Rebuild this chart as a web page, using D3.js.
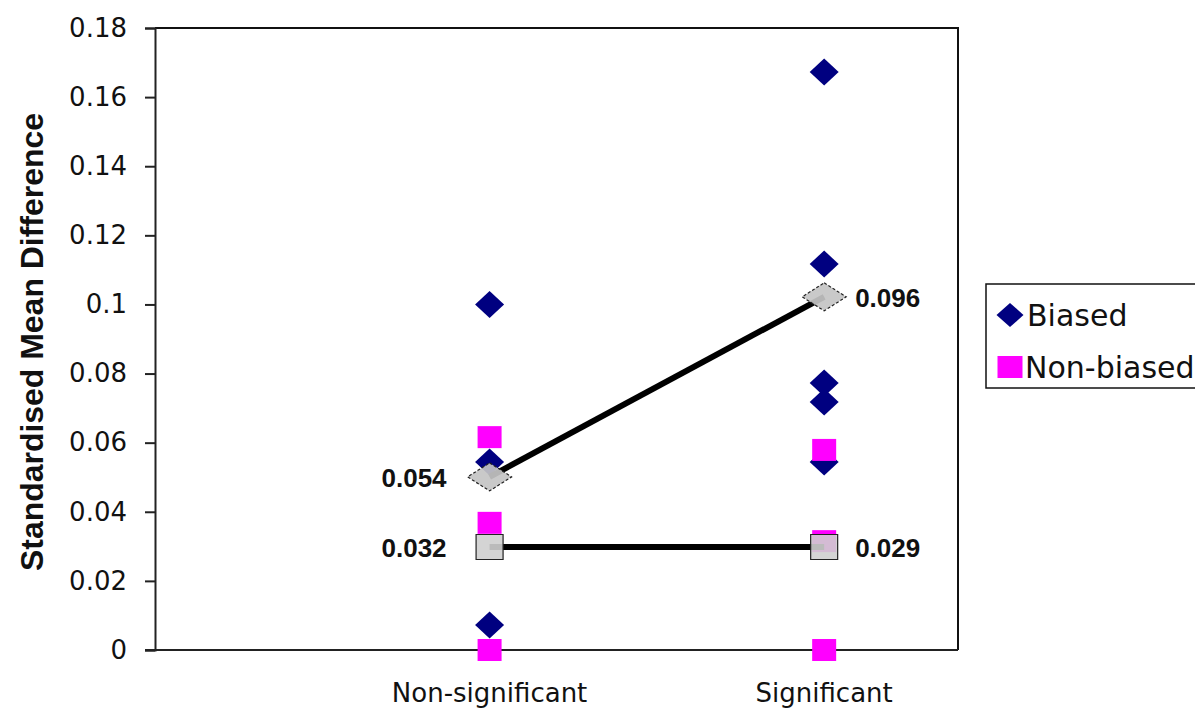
<!DOCTYPE html>
<html>
<head>
<meta charset="utf-8">
<script src="https://cdn.jsdelivr.net/npm/d3@7"></script>
<style>
  html, body { margin: 0; padding: 0; background: #fff; }
  svg { display: block; }
</style>
</head>
<body>
<svg id="chart" width="1195" height="711"></svg>
<script>
// data
var categories = ["Non-significant", "Significant"];
var catPos = [1, 2];
var biasedNonSig = [0.100, 0.0544, 0.0072];
var biasedSig = [0.1673, 0.1117, 0.0773, 0.0718, 0.0544];
var nonBiasedNonSig = [0.0616, 0.0368, 0];
var nonBiasedSig = [0.0579, 0.0315, 0];
var biasedMeans = [0.0501, 0.1022];
var nonBiasedMeans = [0.0298, 0.0298];
var biasedMeanLabels = ["0.054", "0.096"];
var nonBiasedMeanLabels = ["0.032", "0.029"];
var yTicks = [0, 0.02, 0.04, 0.06, 0.08, 0.1, 0.12, 0.14, 0.16, 0.18];
var legendNames = ["Biased", "Non-biased"];

var svg = d3.select("#chart");
var plotLeft = 155, plotRight = 958, plotTop = 28, plotBottom = 650;

var x = d3.scaleLinear().domain([0, 2.4]).range([plotLeft, plotRight]);
var y = d3.scaleLinear().domain([0, 0.18]).range([plotBottom, plotTop]);

var navy = "#000080", magenta = "#ff00ff";

function diamond(w, h) {
	return "M0," + (-h/2) + "L" + (w/2) + ",0L0," + (h/2) + "L" + (-w/2) + ",0Z";
}
function square(w, h) {
	return "M" + (-w/2) + "," + (-h/2) + "h" + w + "v" + h + "h" + (-w) + "Z";
}

// plot frame (top and right)
svg.append("path")
	.attr("d", "M" + x(0) + "," + y(0.18) + "H" + x(2.4) + "V" + y(0))
	.attr("fill", "none")
	.attr("stroke", "#111")
	.attr("stroke-width", 2);

// y axis
var yAxis = svg.append("g")
	.attr("transform", "translate(" + plotLeft + ",0)")
	.call(d3.axisLeft(y).tickValues(yTicks).tickSize(10).tickPadding(18)
		.tickFormat(function(d) { return d === 0 ? "0" : String(+d.toFixed(2)); }));
yAxis.select(".domain").attr("stroke", "#222").attr("stroke-width", 2);
yAxis.selectAll(".tick line").attr("stroke", "#222").attr("stroke-width", 2);
yAxis.selectAll("text")
	.attr("font-family", "DejaVu Sans")
	.attr("font-size", 26)
	.attr("fill", "#111");

// x axis line
svg.append("line")
	.attr("x1", plotLeft - 10).attr("x2", x(2.4))
	.attr("y1", y(0)).attr("y2", y(0))
	.attr("stroke", "#222").attr("stroke-width", 2);

// category labels
svg.selectAll(".cat")
	.data(categories)
	.enter()
	.append("text")
	.attr("class", "cat")
	.attr("x", function(d, i) { return x(catPos[i]); })
	.attr("y", 702)
	.attr("text-anchor", "middle")
	.attr("font-family", "DejaVu Sans")
	.attr("font-size", 26)
	.attr("fill", "#111")
	.text(function(d) { return d; });

// y title
svg.append("text")
	.attr("transform", "translate(43," + ((plotTop + plotBottom) / 2 + 3) + ") rotate(-90)")
	.attr("text-anchor", "middle")
	.attr("font-family", "Liberation Sans")
	.attr("font-weight", "bold")
	.attr("font-size", 31)
	.attr("textLength", 458)
	.attr("lengthAdjust", "spacingAndGlyphs")
	.attr("fill", "#111")
	.text("Standardised Mean Difference");

// biased points
var biasedPts = biasedNonSig.map(function(v) { return [1, v]; })
	.concat(biasedSig.map(function(v) { return [2, v]; }));
svg.selectAll(".biased")
	.data(biasedPts)
	.enter()
	.append("path")
	.attr("class", "biased")
	.attr("transform", function(d) { return "translate(" + x(d[0]) + "," + y(d[1]) + ")"; })
	.attr("d", diamond(29, 27))
	.attr("fill", navy);

// non-biased points
var nonBiasedPts = nonBiasedNonSig.map(function(v) { return [1, v]; })
	.concat(nonBiasedSig.map(function(v) { return [2, v]; }));
svg.selectAll(".nonbiased")
	.data(nonBiasedPts)
	.enter()
	.append("path")
	.attr("class", "nonbiased")
	.attr("transform", function(d) { return "translate(" + x(d[0]) + "," + y(d[1]) + ")"; })
	.attr("d", square(24, 22))
	.attr("fill", magenta);

// mean lines
var line = d3.line()
	.x(function(d, i) { return x(catPos[i]); })
	.y(function(d) { return y(d); });

[biasedMeans, nonBiasedMeans].forEach(function(m) {
	svg.append("path")
		.attr("d", line(m))
		.attr("fill", "none")
		.attr("stroke", "#000")
		.attr("stroke-width", 6);
});

// mean markers
svg.selectAll(".bmean")
	.data(biasedMeans)
	.enter()
	.append("path")
	.attr("class", "bmean")
	.attr("transform", function(d, i) { return "translate(" + x(catPos[i]) + "," + y(d) + ")"; })
	.attr("d", diamond(44, 28))
	.attr("fill", "#c4c4c4")
	.attr("fill-opacity", 0.92)
	.attr("stroke", "#222")
	.attr("stroke-width", 1.2)
	.attr("stroke-dasharray", "3,2");

svg.selectAll(".nbmean")
	.data(nonBiasedMeans)
	.enter()
	.append("path")
	.attr("class", "nbmean")
	.attr("transform", function(d, i) { return "translate(" + x(catPos[i]) + "," + y(d) + ")"; })
	.attr("d", square(27, 25))
	.attr("fill", "#cfcfcf")
	.attr("fill-opacity", 0.9)
	.attr("stroke", "#222")
	.attr("stroke-width", 1.2);

// mean value labels
function addLabels(means, labels, cls) {
	svg.selectAll("." + cls)
		.data(means)
		.enter()
		.append("text")
		.attr("class", cls)
		.attr("x", function(d, i) { return x(catPos[i]) + (i === 0 ? -43 : 31); })
		.attr("y", function(d) { return y(d) + 10; })
		.attr("text-anchor", function(d, i) { return i === 0 ? "end" : "start"; })
		.attr("font-family", "Liberation Sans")
		.attr("font-weight", "bold")
		.attr("font-size", 26)
		.attr("fill", "#111")
		.text(function(d, i) { return labels[i]; });
}
addLabels(biasedMeans, biasedMeanLabels, "blab");
addLabels(nonBiasedMeans, nonBiasedMeanLabels, "nblab");

// legend
var legendGroup = svg.append("g").attr("transform", "translate(986,284)");
legendGroup.append("rect")
	.attr("width", 240)
	.attr("height", 104)
	.attr("fill", "#fff")
	.attr("stroke", "#111")
	.attr("stroke-width", 1.5);

var legend = legendGroup.selectAll(".legend")
	.data(legendNames)
	.enter()
	.append("g")
	.attr("class", "legend")
	.attr("transform", function(d, i) { return "translate(0," + (31 + i * 52) + ")"; });

legend.append("path")
	.attr("transform", "translate(24,0)")
	.attr("d", function(d, i) { return i === 0 ? diamond(27, 24) : square(25, 22); })
	.attr("fill", function(d, i) { return i === 0 ? navy : magenta; });

legend.append("text")
	.attr("x", function(d, i) { return i === 0 ? 41 : 39; })
	.attr("y", 11)
	.attr("font-family", "DejaVu Sans")
	.attr("font-size", 30)
	.attr("fill", "#111")
	.text(function(d) { return d; });
</script>
</body>
</html>
